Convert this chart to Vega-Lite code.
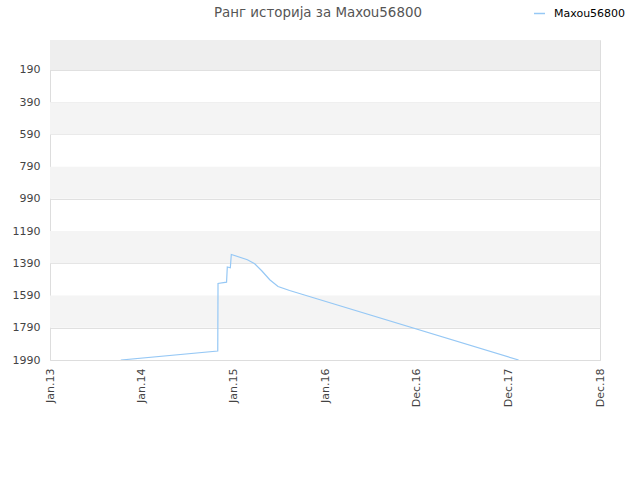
{
  "$schema": "https://vega.github.io/schema/vega-lite/v6.json",
  "width": 550,
  "height": 320,
  "autosize": {"type": "none"},
  "padding": {"left": 50, "top": 40, "right": 40, "bottom": 120},
  "background": "white",
  "config": {
    "font": "DejaVu Sans",
    "view": {"stroke": "#dddddd", "strokeWidth": 1},
    "axisY": {
      "labelOverlap": false,
      "labelFontSize": 11,
      "labelColor": "#444444",
      "labelPadding": 10,
      "ticks": false,
      "domain": false,
      "grid": true,
      "gridColor": "#e0e0e0"
    }
  },
  "title": {
    "text": "Ранг историја за Maxou56800",
    "anchor": "middle",
    "fontSize": 13.4,
    "fontWeight": "normal",
    "color": "#555555",
    "offset": -12,
    "dx": -7
  },
  "datasets": {
    "topband": [
      {"top": 4, "bottom": 190}
    ],
    "bands": [
      {"top": 390, "bottom": 590},
      {"top": 790, "bottom": 990},
      {"top": 1190, "bottom": 1390},
      {"top": 1590, "bottom": 1790}
    ],
    "rank": [
      {"date": "2013-10-10", "rank": 1990, "player": "Maxou56800"},
      {"date": "2014-10-31", "rank": 1934, "player": "Maxou56800"},
      {"date": "2014-11-01", "rank": 1515, "player": "Maxou56800"},
      {"date": "2014-12-05", "rank": 1507, "player": "Maxou56800"},
      {"date": "2014-12-08", "rank": 1413, "player": "Maxou56800"},
      {"date": "2014-12-20", "rank": 1418, "player": "Maxou56800"},
      {"date": "2014-12-24", "rank": 1335, "player": "Maxou56800"},
      {"date": "2015-02-26", "rank": 1368, "player": "Maxou56800"},
      {"date": "2015-03-27", "rank": 1393, "player": "Maxou56800"},
      {"date": "2015-04-24", "rank": 1436, "player": "Maxou56800"},
      {"date": "2015-05-26", "rank": 1492, "player": "Maxou56800"},
      {"date": "2015-06-28", "rank": 1534, "player": "Maxou56800"},
      {"date": "2015-08-13", "rank": 1559, "player": "Maxou56800"},
      {"date": "2018-02-10", "rank": 1990, "player": "Maxou56800"}
    ]
  },
  "layer": [
    {
      "data": {"name": "topband"},
      "mark": {"type": "rect", "fill": "#eeeeee"},
      "encoding": {
        "y": {
          "field": "top",
          "type": "quantitative",
          "title": null,
          "scale": {"domain": [4, 1990], "reverse": true, "nice": false, "zero": false},
          "axis": {"values": [190, 390, 590, 790, 990, 1190, 1390, 1590, 1790, 1990], "format": "d"}
        },
        "y2": {"field": "bottom"}
      }
    },
    {
      "data": {"name": "bands"},
      "mark": {"type": "rect", "fill": "#f4f4f4"},
      "encoding": {
        "y": {
          "field": "top",
          "type": "quantitative",
          "title": null,
          "axis": {"values": [190, 390, 590, 790, 990, 1190, 1390, 1590, 1790, 1990], "format": "d"}
        },
        "y2": {"field": "bottom"}
      }
    },
    {
      "data": {"name": "rank"},
      "mark": {"type": "line", "strokeWidth": 1.2, "clip": true},
      "encoding": {
        "x": {
          "field": "date",
          "type": "temporal",
          "scale": {"type": "utc", "domain": [{"year": 2013, "month": 1, "date": 1, "utc": true}, {"year": 2018, "month": 12, "date": 31, "utc": true}], "nice": false},
          "title": null,
          "axis": {
            "values": [
              {"year": 2013, "month": 1, "date": 1, "utc": true},
              {"year": 2014, "month": 1, "date": 1, "utc": true},
              {"year": 2015, "month": 1, "date": 1, "utc": true},
              {"year": 2016, "month": 1, "date": 1, "utc": true},
              {"year": 2016, "month": 12, "date": 31, "utc": true},
              {"year": 2017, "month": 12, "date": 31, "utc": true},
              {"year": 2018, "month": 12, "date": 31, "utc": true}
            ],
            "labelExpr": "utcFormat(datum.value, '%b.%y')",
            "labelAngle": -90,
            "labelAlign": "right",
            "labelBaseline": "middle",
            "labelFontSize": 11,
            "labelColor": "#444444",
            "labelPadding": 8,
            "labelOverlap": false,
            "ticks": false,
            "domain": true,
            "domainColor": "#dddddd",
            "grid": false
          }
        },
        "y": {
          "field": "rank",
          "type": "quantitative",
          "title": null,
          "axis": {"values": [190, 390, 590, 790, 990, 1190, 1390, 1590, 1790, 1990], "format": "d"}
        },
        "color": {
          "field": "player",
          "type": "nominal",
          "scale": {"range": ["#96c8f5"]},
          "legend": {
            "title": null,
            "orient": "none",
            "legendX": 483,
            "legendY": -33,
            "symbolType": "stroke",
            "symbolSize": 120,
            "symbolStrokeWidth": 1.5,
            "labelOffset": 8,
            "labelFontSize": 11,
            "labelColor": "#000000"
          }
        }
      }
    }
  ]
}
